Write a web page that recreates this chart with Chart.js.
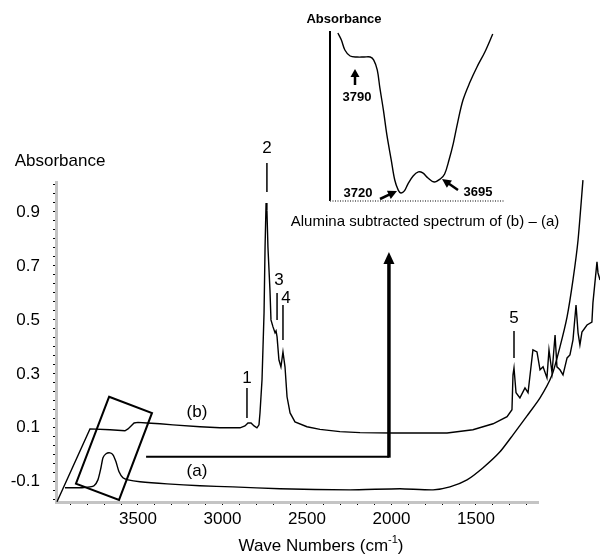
<!DOCTYPE html>
<html lang="en">
<head>
<meta charset="UTF-8">
<title>IR spectra - alumina</title>
<style>
  body { margin: 0; background: #fff; }
  .wrap { position: relative; width: 600px; height: 558px; }
  #mainChart { position: absolute; left: 0; top: 0; }
  #insetChart { position: absolute; left: 280px; top: 0; }
</style>
</head>
<body>
<div class="wrap">
  <canvas id="mainChart" width="600" height="558"></canvas>
  <canvas id="insetChart" width="320" height="240"></canvas>
</div>
<script src="https://cdn.jsdelivr.net/npm/chart.js"></script>
<script>
// spectrum (b)
const waveB = [3979, 3784, 3665, 3577, 3559, 3541, 3523, 3500, 3447, 3370, 3293, 3133, 3015, 2896,
  2867, 2849, 2831, 2813, 2796, 2784, 2778, 2766, 2754, 2748, 2742, 2737, 2731, 2719, 2713, 2701,
  2689, 2683, 2677, 2666, 2654, 2642, 2630, 2618, 2600, 2571, 2500, 2423, 2305, 2186, 1991, 1671,
  1518, 1399, 1316, 1287, 1281, 1275, 1263, 1240, 1210, 1192, 1163, 1139, 1121, 1103, 1080, 1068,
  1050, 1032, 1021, 1003, 985, 961, 944, 926, 908, 896, 885, 873, 843, 814, 808, 784, 778, 766];
const absB = [-0.174, 0.096, 0.093, 0.089, 0.096, 0.107, 0.118, 0.120, 0.118, 0.115, 0.111, 0.104, 0.100, 0.100,
  0.107, 0.118, 0.118, 0.107, 0.100, 0.111, 0.155, 0.278, 0.526, 0.770, 0.933, 0.907, 0.770, 0.611, 0.500, 0.474,
  0.452, 0.459, 0.437, 0.352, 0.326, 0.381, 0.326, 0.215, 0.155, 0.122, 0.104, 0.094, 0.086, 0.082, 0.081, 0.081,
  0.093, 0.115, 0.141, 0.167, 0.296, 0.322, 0.230, 0.211, 0.248, 0.230, 0.389, 0.381, 0.315, 0.326, 0.285, 0.389,
  0.304, 0.444, 0.326, 0.315, 0.296, 0.359, 0.370, 0.426, 0.555, 0.452, 0.407, 0.455, 0.481, 0.492, 0.563, 0.715, 0.674, 0.648];

// spectrum (a)
const waveA = [3932, 3831, 3784, 3760, 3737, 3719, 3707, 3689, 3665, 3648, 3630, 3612, 3589, 3559, 3488,
  3328, 3133, 2938, 2660, 2245, 1950, 1754, 1654, 1553, 1458, 1358, 1281, 1198, 1121, 1050, 1003, 961, 926, 896, 867];
const absA = [-0.122, -0.122, -0.119, -0.115, -0.093, -0.048, -0.011, 0.004, 0.007, 0.000, -0.026, -0.063, -0.085, -0.093, -0.100,
  -0.108, -0.115, -0.119, -0.126, -0.130, -0.126, -0.130, -0.119, -0.093, -0.048, 0.011, 0.074, 0.144, 0.211, 0.296, 0.400, 0.511, 0.648, 0.796, 1.018];

// inset: alumina subtracted spectrum (b) - (a), arbitrary absorbance units
const insetWave = [3831, 3827, 3823, 3817, 3809, 3801, 3794, 3790, 3786, 3783, 3779, 3775, 3770, 3766, 3762, 3759,
  3755, 3751, 3745, 3739, 3734, 3728, 3721, 3714, 3709, 3704, 3699, 3694, 3688, 3680, 3672, 3663, 3654];
const insetAbs = [1.0, 0.958, 0.899, 0.863, 0.857, 0.857, 0.857, 0.839, 0.780, 0.673, 0.542, 0.393, 0.244, 0.125, 0.065, 0.048,
  0.060, 0.101, 0.149, 0.173, 0.167, 0.137, 0.113, 0.131, 0.161, 0.244, 0.345, 0.470, 0.601, 0.708, 0.798, 0.887, 0.994];

// peak numbers on (b)
const peakLabels = ['1', '2', '3', '4', '5'];
const peakWave = [2855, 2737, 2677, 2642, 1275];

const FONT = "'Liberation Sans', Arial, sans-serif";

function toPoints(xs, ys) {
  return xs.map((v, i) => ({ x: v, y: ys[i] }));
}

function arrow(ctx, x1, y1, x2, y2, len, half) {
  const a = Math.atan2(y2 - y1, x2 - x1);
  ctx.beginPath();
  ctx.moveTo(x1, y1);
  ctx.lineTo(x2 - Math.cos(a) * len * 0.7, y2 - Math.sin(a) * len * 0.7);
  ctx.stroke();
  ctx.beginPath();
  ctx.moveTo(x2, y2);
  ctx.lineTo(x2 - len * Math.cos(a) + half * Math.sin(a), y2 - len * Math.sin(a) - half * Math.cos(a));
  ctx.lineTo(x2 - len * Math.cos(a) - half * Math.sin(a), y2 - len * Math.sin(a) + half * Math.cos(a));
  ctx.closePath();
  ctx.fill();
}

// labels, box and arrow on the main plot
const mainNotes = {
  id: 'mainNotes',
  afterDatasetsDraw(chart) {
    const { ctx } = chart;
    const x = chart.scales.x, y = chart.scales.y;
    const px = v => x.getPixelForValue(v), py = v => y.getPixelForValue(v);
    ctx.save();
    ctx.fillStyle = '#000';
    ctx.strokeStyle = '#000';
    ctx.textAlign = 'center';
    ctx.textBaseline = 'middle';

    ctx.font = '17px ' + FONT;
    ctx.fillText('Absorbance', 60, 161);

    // peak markers
    const marks = [
      { dx: 0, top: 388, bot: 418, lx: 0, ly: 378 },
      { dx: 0, top: 163, bot: 192, lx: 0, ly: 148 },
      { dx: 0, top: 293, bot: 320, lx: 2, ly: 280 },
      { dx: 0, top: 305, bot: 340, lx: 3, ly: 298 },
      { dx: 0, top: 331, bot: 358, lx: 0, ly: 318 }
    ];
    ctx.lineWidth = 1.5;
    peakLabels.forEach((t, i) => {
      const m = marks[i], xx = px(peakWave[i]) + m.dx;
      ctx.beginPath();
      ctx.moveTo(xx, m.top);
      ctx.lineTo(xx, m.bot);
      ctx.stroke();
      ctx.fillText(t, xx + m.lx, m.ly);
    });

    ctx.fillText('(b)', px(3151), py(0.159));
    ctx.fillText('(a)', px(3151), py(-0.063));

    // tilted box round the OH region
    const box = [[3671, 0.215], [3417, 0.155], [3612, -0.167], [3867, -0.107]];
    ctx.lineWidth = 2;
    ctx.beginPath();
    box.forEach((c, i) => i ? ctx.lineTo(px(c[0]), py(c[1])) : ctx.moveTo(px(c[0]), py(c[1])));
    ctx.closePath();
    ctx.stroke();

    // arrow up to the inset
    const xr = px(2015), yh = py(-0.007);
    ctx.beginPath();
    ctx.moveTo(px(3452), yh);
    ctx.lineTo(xr, yh);
    ctx.stroke();
    ctx.lineWidth = 3.5;
    arrow(ctx, xr, yh + 1, xr, py(0.752), 12, 5.5);

    // x title with superscript
    ctx.font = '17px ' + FONT;
    ctx.textAlign = 'left';
    const t1 = 'Wave Numbers (cm', sup = '-1', t2 = ')';
    const w1 = ctx.measureText(t1).width;
    ctx.font = '11px ' + FONT;
    const ws = ctx.measureText(sup).width;
    ctx.font = '17px ' + FONT;
    const w2 = ctx.measureText(t2).width;
    let sx = 321 - (w1 + ws + w2) / 2;
    ctx.fillText(t1, sx, 546);
    ctx.font = '11px ' + FONT;
    ctx.fillText(sup, sx + w1, 540);
    ctx.font = '17px ' + FONT;
    ctx.fillText(t2, sx + w1 + ws, 546);
    ctx.restore();
  }
};

// inset axes and labels
const insetNotes = {
  id: 'insetNotes',
  afterDatasetsDraw(chart) {
    const { ctx, chartArea: a } = chart;
    ctx.save();
    ctx.fillStyle = '#000';
    ctx.strokeStyle = '#000';
    ctx.lineWidth = 2;
    ctx.beginPath();
    ctx.moveTo(a.left, a.top - 2);
    ctx.lineTo(a.left, a.bottom);
    ctx.stroke();
    ctx.lineWidth = 1.5;
    ctx.strokeStyle = '#555';
    ctx.setLineDash([1, 1.5]);
    ctx.beginPath();
    ctx.moveTo(a.left, a.bottom);
    ctx.lineTo(a.right, a.bottom);
    ctx.stroke();
    ctx.setLineDash([]);
    ctx.strokeStyle = '#000';

    ctx.textAlign = 'center';
    ctx.textBaseline = 'middle';
    ctx.font = 'bold 13px ' + FONT;
    ctx.fillText('Absorbance', 64, 19);

    ctx.font = 'bold 13px ' + FONT;
    ctx.fillText('3790', 77, 97);
    ctx.fillText('3720', 78, 193);
    ctx.fillText('3695', 198, 192);
    ctx.lineWidth = 2.5;
    arrow(ctx, 75, 85, 75, 69, 8, 4.5);
    arrow(ctx, 100, 199, 117, 191, 9, 4.5);
    arrow(ctx, 178, 190, 162, 179, 9, 4.5);

    ctx.font = '15px ' + FONT;
    ctx.fillText('Alumina subtracted spectrum of (b) \u2013 (a)', 145, 222);
    ctx.restore();
  }
};

const tickFont = { family: FONT, size: 17 };

new Chart(document.getElementById('mainChart'), {
  type: 'line',
  data: {
    datasets: [
      { label: '(b)', data: toPoints(waveB, absB), borderColor: '#000', borderWidth: 1.4, pointRadius: 0, tension: 0, clip: false },
      { label: '(a)', data: toPoints(waveA, absA), borderColor: '#000', borderWidth: 1.4, pointRadius: 0, tension: 0.2, clip: false }
    ]
  },
  options: {
    responsive: false,
    animation: false,
    events: [],
    layout: { padding: { top: 182, right: 62, left: 0, bottom: 0 } },
    plugins: { legend: { display: false }, tooltip: { enabled: false } },
    scales: {
      x: {
        type: 'linear',
        reverse: true,
        min: 1133,
        max: 3985,
        afterFit: s => { s.height = 56; },
        border: { display: true, color: '#c4c4c4', width: 3 },
        grid: { display: true, drawOnChartArea: false, drawTicks: true, tickLength: 3, color: '#000', lineWidth: 1 },
        ticks: {
          stepSize: 100,
          autoSkip: false,
          maxRotation: 0,
          includeBounds: false,
          maxTicksLimit: 1000,
          padding: 4,
          color: '#000',
          font: tickFont,
          callback: v => (Math.round(v) % 500 === 0 ? String(Math.round(v)) : '')
        }
      },
      y: {
        min: -0.175,
        max: 1.011,
        afterFit: s => { s.width = 56; },
        border: { display: true, color: '#c4c4c4', width: 3 },
        grid: { display: true, drawOnChartArea: false, drawTicks: true, tickLength: 3, color: '#000', lineWidth: 1 },
        ticks: {
          stepSize: 1 / 30,
          autoSkip: false,
          includeBounds: false,
          maxTicksLimit: 1000,
          padding: 13,
          color: '#000',
          font: tickFont,
          callback: v => {
            const t = v * 10, r = Math.round(t);
            return (Math.abs(t - r) < 0.02 && Math.abs(r) % 2 === 1) ? (r / 10).toFixed(1) : '';
          }
        }
      }
    }
  },
  plugins: [mainNotes]
});

new Chart(document.getElementById('insetChart'), {
  type: 'line',
  data: {
    datasets: [
      { label: '(b) - (a)', data: toPoints(insetWave, insetAbs), borderColor: '#000', borderWidth: 1.4, pointRadius: 0, tension: 0.35, clip: false }
    ]
  },
  options: {
    responsive: false,
    animation: false,
    events: [],
    layout: { padding: { left: 50, top: 33, right: 95, bottom: 39 } },
    plugins: { legend: { display: false }, tooltip: { enabled: false } },
    scales: {
      x: { type: 'linear', reverse: true, min: 3640, max: 3840, display: false },
      y: { min: 0, max: 1, display: false }
    }
  },
  plugins: [insetNotes]
});
</script>
</body>
</html>
